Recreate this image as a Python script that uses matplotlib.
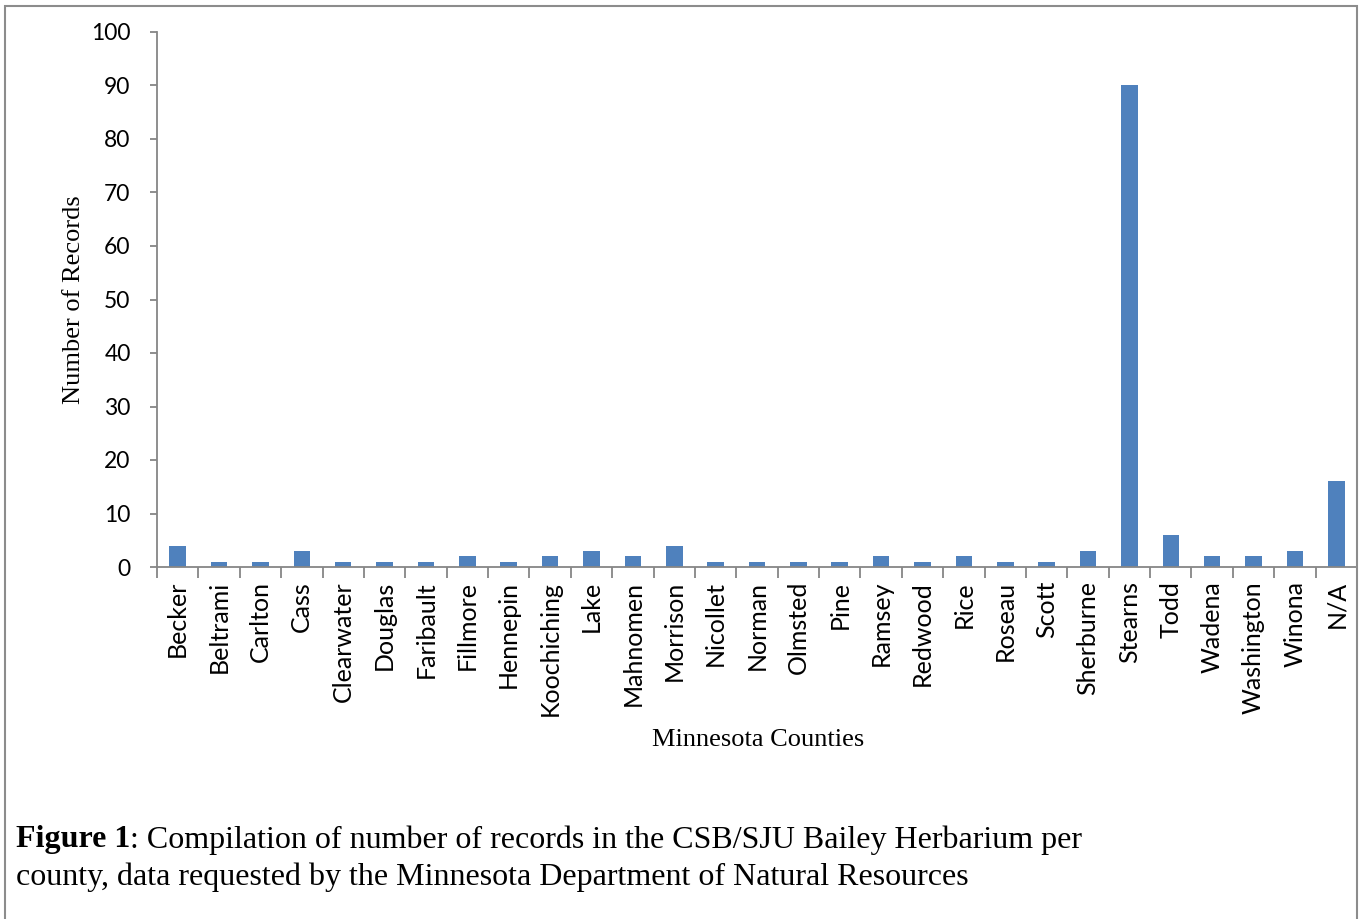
import matplotlib
matplotlib.use("Agg")
import matplotlib.pyplot as plt
from matplotlib.patches import Rectangle

counties = ["Becker", "Beltrami", "Carlton", "Cass", "Clearwater", "Douglas",
            "Faribault", "Fillmore", "Hennepin", "Koochiching", "Lake",
            "Mahnomen", "Morrison", "Nicollet", "Norman", "Olmsted", "Pine",
            "Ramsey", "Redwood", "Rice", "Roseau", "Scott", "Sherburne",
            "Stearns", "Todd", "Wadena", "Washington", "Winona", "N/A"]
records = [4, 1, 1, 3, 1, 1, 1, 2, 1, 2, 3, 2, 4, 1, 1, 1, 1, 2, 1, 2, 1, 1,
           3, 90, 6, 2, 2, 3, 16]
yticks = list(range(0, 101, 10))

W, H = 1360, 919
fig = plt.figure(figsize=(W / 100, H / 100), dpi=100)
ax = fig.add_axes([157 / W, 1 - 567 / H, (1357 - 157) / W, (567 - 32) / H])

axis_col = "#868686"
x = list(range(len(counties)))
ax.bar(x, records, width=0.4, color="#4F81BD", zorder=2)

ax.set_xlim(-0.5, len(counties) - 0.5)
ax.set_ylim(0, 100)
ax.set_yticks(yticks)
ax.set_yticklabels([str(v) for v in yticks], fontsize=16.5, family="Lato")
ax.set_xticks(x)
ax.set_xticklabels(counties, rotation=90, fontsize=18, family="Lato")
ax.tick_params(axis="x", length=0, pad=10)
ax.tick_params(axis="y", length=5, color=axis_col, width=1.3, pad=14)
# category separator ticks on x axis
ax.set_xticks([i - 0.5 for i in range(len(counties) + 1)], minor=True)
ax.tick_params(axis="x", which="minor", length=8, color=axis_col, width=1.3)

for side in ["top", "right"]:
    ax.spines[side].set_visible(False)
for side in ["left", "bottom"]:
    ax.spines[side].set_color(axis_col)
    ax.spines[side].set_linewidth(1.3)

ax.set_ylabel("Number of Records", family="Liberation Serif", fontsize=19)
ax.yaxis.set_label_coords(-72 / 1200, 0.5)
fig.text(758 / W, 1 - 740 / H, "Minnesota Counties", family="Liberation Serif",
         fontsize=19, ha="center", va="center")

t = fig.text(16 / W, 1 - 840 / H, "Figure 1", fontsize=23,
             family="Liberation Serif", weight="bold", va="center")
fig.canvas.draw()
bb = t.get_window_extent()
fig.text(bb.x1 / W, 1 - 840 / H,
         ": Compilation of number of records in the CSB/SJU Bailey Herbarium per",
         fontsize=23, family="Liberation Serif", va="center")
fig.text(16 / W, 1 - 877 / H,
         "county, data requested by the Minnesota Department of Natural Resources",
         fontsize=23, family="Liberation Serif", va="center")

fig.patches.append(Rectangle((5 / W, -0.01), (1357 - 5) / W, 1 - 6 / H + 0.01,
                             transform=fig.transFigure, fill=False,
                             edgecolor="#8c8c8c", linewidth=1.5))

fig.savefig("out.png", dpi=100)
